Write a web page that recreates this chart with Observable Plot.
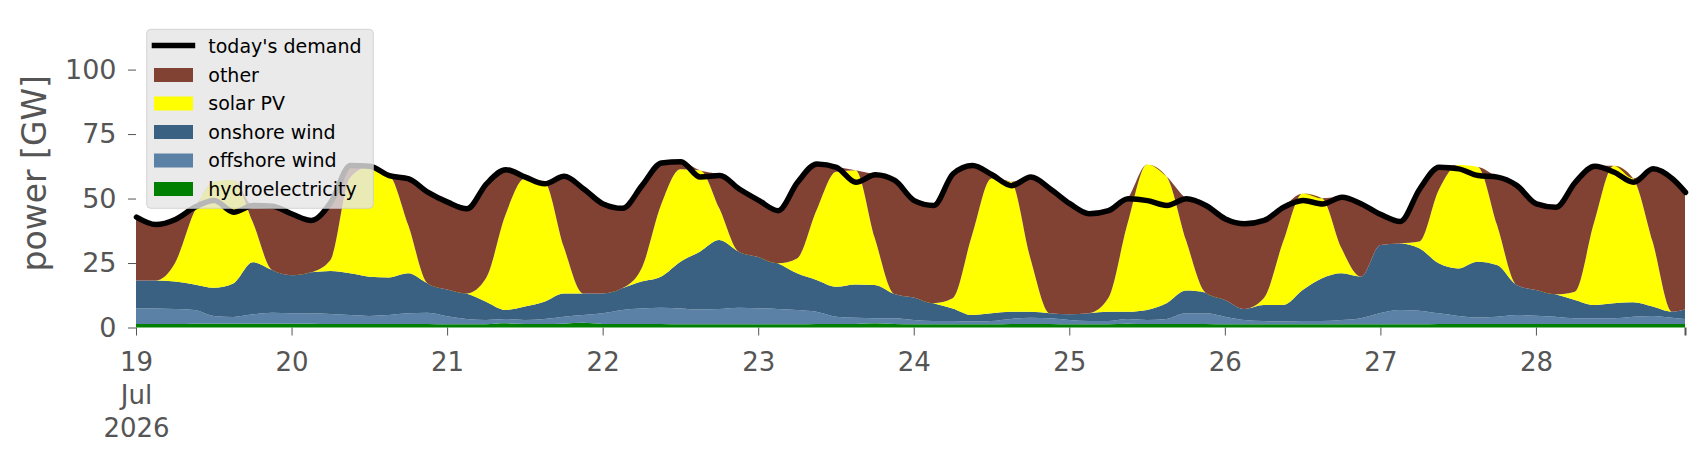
<!DOCTYPE html>
<html><head><meta charset="utf-8">
<script src="https://cdn.jsdelivr.net/npm/d3@7"></script>
<script src="https://cdn.jsdelivr.net/npm/@observablehq/plot@0.6"></script>
<style>body{margin:0;background:#fff;} #chart{width:1706px;height:460px;}</style>
</head><body><div id="chart"></div>
<script>
// hours since 19 Jul 2026 00:00
const hours = [0,3,6,9,12,15,18,21, 24,27,30,33,36,39,42,45, 48,51,54,57,60,63,66,69, 72,75,78,81,84,87,90,93,
  96,99,102,105,108,111,114,117, 120,123,126,129,132,135,138,141, 144,147,150,153,156,159,162,165,
  168,171,174,177,180,183,186,189, 192,195,198,201,204,207,210,213, 216,219,222,225,228,231,234,237, 239];

const hydro = [1.4,1.4,1.4,1.5,1.5,1.5,1.5,1.5, 1.5,1.5,1.4,1.4,1.4,1.4,1.4,1.4, 1.3,1.3,1.3,1.6,1.4,1.4,1.5,1.8,
  1.4,1.4,1.4,1.4,1.3,1.3,1.3,1.3, 1.3,1.3,1.3,1.4,1.4,1.4,1.6,1.4, 1.3,1.3,1.3,1.3,1.3,1.4,1.4,1.4,
  1.3,1.3,1.3,1.5,1.4,1.4,1.4,1.4, 1.3,1.3,1.3,1.3,1.3,1.3,1.3,1.3, 1.3,1.3,1.3,1.4,1.4,1.4,1.4,1.4,
  1.4,1.4,1.4,1.4,1.4,1.4,1.4,1.4, 1.4];

const offshore = [6.0,6.0,5.8,5.3,3.0,2.6,3.6,4.2, 4.0,4.0,3.8,3.4,3.1,3.4,4.1,4.3, 3.1,2.0,1.6,1.7,1.5,1.9,2.7,3.0,
  4.1,5.4,6.0,6.3,6.1,5.7,5.9,6.4, 6.2,5.9,5.5,4.7,2.8,2.4,2.0,2.2, 1.6,1.2,1.2,1.0,1.2,1.9,2.4,2.2,
  1.6,1.2,1.2,1.8,1.5,1.9,4.1,4.1, 2.9,1.6,1.2,1.0,1.2,1.2,1.6,2.3, 4.3,5.5,5.2,4.1,3.1,2.5,2.8,3.4,
  3.2,2.8,2.2,2.2,2.2,2.8,3.1,2.4, 1.9];

const onshore = [10.8,10.8,10.6,9.9,10.9,13.0,20.2,16.6, 14.8,15.9,16.7,16.2,15.2,14.6,15.5,11.4, 10.3,9.9,7.1,3.5,5.2,6.7,9.0,8.4,
  7.7,8.4,10.4,12.0,18.1,22.4,26.7,21.7, 19.8,17.7,14.2,12.3,11.6,12.9,12.9,9.4, 8.7,6.9,4.9,2.5,3.0,2.8,2.3,1.9,
  2.2,3.0,3.6,2.8,3.9,6.1,8.8,8.1, 6.5,4.3,6.2,6.4,12.0,16.6,18.1,16.1, 26.4,25.8,24.2,19.4,18.4,21.6,20.0,11.7,
  9.9,8.7,7.1,5.1,5.8,5.6,3.6,2.3, 3.7];

const solar = [0,0,7.1,28.2,41.1,40.1,15.7,0, 0,0,4.3,37.0,42.6,40.1,18.7,0, 0,0,9.1,36.8,49.7,46.5,18.1,0,
  0,0,5.1,27.8,35.9,31.6,12.3,0, 0,0,5.8,27.1,44.6,44.3,18.1,0, 0,0,3.9,31.1,52.3,50.4,20.7,0,
  0,0,5.2,34.3,56.4,49.1,19.6,0, 0,0,2.6,24.6,37.5,31.0,9.7,0, 0,0,2.6,28.4,40.1,36.8,15.5,0,
  0,0,3.2,32.3,53.3,48.0,25.2,0, 0];

const other = [24.8,21.9,17.2,1.9,0,0,6.5,24.9, 23.9,20.3,22.6,5.0,0.4,0,18.1,35.5, 34.1,33.0,36.8,17.8,0.7,0,27.5,40.7,
  34.9,31.2,32.3,16.5,3.1,0,12.9,24.5, 22.2,20.6,29.7,18.1,1.9,0,24.8,44.2, 37.8,38.1,48.5,27.1,1.6,0,31.7,48.4,
  43.1,38.8,34.2,9.7,0,0,16.2,33.9, 31.6,33.2,30.4,13.5,0,0,20.0,28.4, 12.0,8.7,20.6,9.0,0,0,18.8,38.7,
  33.6,33.9,42.6,21.7,0,0,28.4,51.7, 45.6];

const demand = [43.0,40.1,42.1,46.8,49.4,44.9,47.5,47.2, 44.2,41.7,48.8,63.0,62.7,59.1,57.8,52.6, 48.8,46.2,55.9,61.4,58.5,55.9,58.8,53.9,
  48.1,46.4,55.2,64.0,64.5,58.5,59.1,53.9, 49.5,45.5,56.5,63.6,62.3,56.5,59.4,57.2, 49.4,47.5,59.8,63.0,59.4,55.2,58.5,53.9,
  48.2,44.3,45.5,50.1,49.4,47.5,50.1,47.5, 42.3,40.4,41.7,46.8,49.4,48.1,50.7,48.1, 44.0,41.3,53.9,62.3,61.7,59.1,58.5,55.2,
  48.1,46.8,56.5,62.7,60.4,56.5,61.7,57.8, 52.6];

const seriesNames = ["hydroelectricity", "offshore wind", "onshore wind", "solar PV", "other"];
const seriesColors = ["#008000", "#5b82a6", "#3b6182", "#ffff00", "#814234"];
const seriesValues = [hydro, offshore, onshore, solar, other];
const demandLabel = "today's demand";
const legendLabels = [demandLabel, "other", "solar PV", "onshore wind", "offshore wind", "hydroelectricity"];
const dayLabels = ["19\nJul\n2026", "20", "21", "22", "23", "24", "25", "26", "27", "28"];
const yTicks = [0, 25, 50, 75, 100];
const yLabel = "power [GW]";

const t0 = Date.UTC(2026, 6, 19);
const H = 3600e3;
const dates = hours.map(h => new Date(t0 + h * H));
const dayTicks = dayLabels.map((_, i) => new Date(t0 + i * 24 * H));
const endTick = dates[dates.length - 1];

const stacked = [];
seriesNames.forEach((name, s) => {
  seriesValues[s].forEach((v, i) => stacked.push({date: dates[i], series: name, value: v}));
});
const demandData = demand.map((v, i) => ({date: dates[i], value: v}));

const W = 1706, HT = 460;
const mL = 136, mR = 21, mT = 18, mB = 132.5;
const font = "DejaVu Sans";
const gray = "#555555";

const svg = Plot.plot({
  width: W, height: HT,
  marginLeft: mL, marginRight: mR, marginTop: mT, marginBottom: mB,
  style: {fontFamily: font, background: "white", overflow: "visible"},
  x: {type: "utc", domain: [dates[0], endTick]},
  y: {domain: [0, 120]},
  color: {domain: seriesNames, range: seriesColors},
  marks: [
    Plot.areaY(stacked, {x: "date", y: "value", z: "series", fill: "series", order: seriesNames, curve: "monotone-x"}),
    Plot.lineY(demandData, {x: "date", y: "value", stroke: "black", strokeWidth: 5.5, curve: "monotone-x", strokeLinejoin: "round"}),
    Plot.axisY({ticks: yTicks, tickSize: 8, tickPadding: 12, fontSize: 27, color: gray, label: null}),
    Plot.axisX({ticks: dayTicks, tickSize: 8, tickPadding: 12, fontSize: 26, lineHeight: 1.27, color: gray, label: null,
      tickFormat: (d, i) => dayLabels[i]}),
    Plot.axisX({ticks: [endTick], tickSize: 8, strokeWidth: 2, color: gray, label: null, tickFormat: () => ""}),
    Plot.text([yLabel], {frameAnchor: "left", dx: -101, rotate: -90, textAnchor: "middle", lineAnchor: "middle",
      fontSize: 33, fill: gray, text: d => d})
  ]
});

// legend overlay (upper left inside plot area)
const g = d3.select(svg).append("g").attr("font-family", font).attr("font-size", 19).attr("text-anchor", "start");
const lx = mL + 10.7, ly = mT + 11.3, lw = 226.6, lh = 179;
g.append("rect").attr("x", lx).attr("y", ly).attr("width", lw).attr("height", lh)
  .attr("rx", 4).attr("fill", "#e5e5e5").attr("fill-opacity", 0.8)
  .attr("stroke", "#cccccc").attr("stroke-opacity", 0.8);
const legendColors = {"other": "#814234", "solar PV": "#ffff00", "onshore wind": "#3b6182", "offshore wind": "#5b82a6", "hydroelectricity": "#008000"};
legendLabels.forEach((lab, i) => {
  const cy = ly + 17.2 + i * 28.5;
  if (i === 0) {
    g.append("line").attr("x1", lx + 5).attr("x2", lx + 48.5).attr("y1", cy - 1).attr("y2", cy - 1)
      .attr("stroke", "black").attr("stroke-width", 5.5);
  } else {
    g.append("rect").attr("x", lx + 7.3).attr("y", cy - 7).attr("width", 39).attr("height", 14)
      .attr("fill", legendColors[lab]);
  }
  g.append("text").attr("x", lx + 61.6).attr("y", cy).attr("dy", "0.35em").attr("text-anchor", "start")
    .attr("fill", "black").text(lab);
});

document.getElementById("chart").appendChild(svg);
</script></body></html>
